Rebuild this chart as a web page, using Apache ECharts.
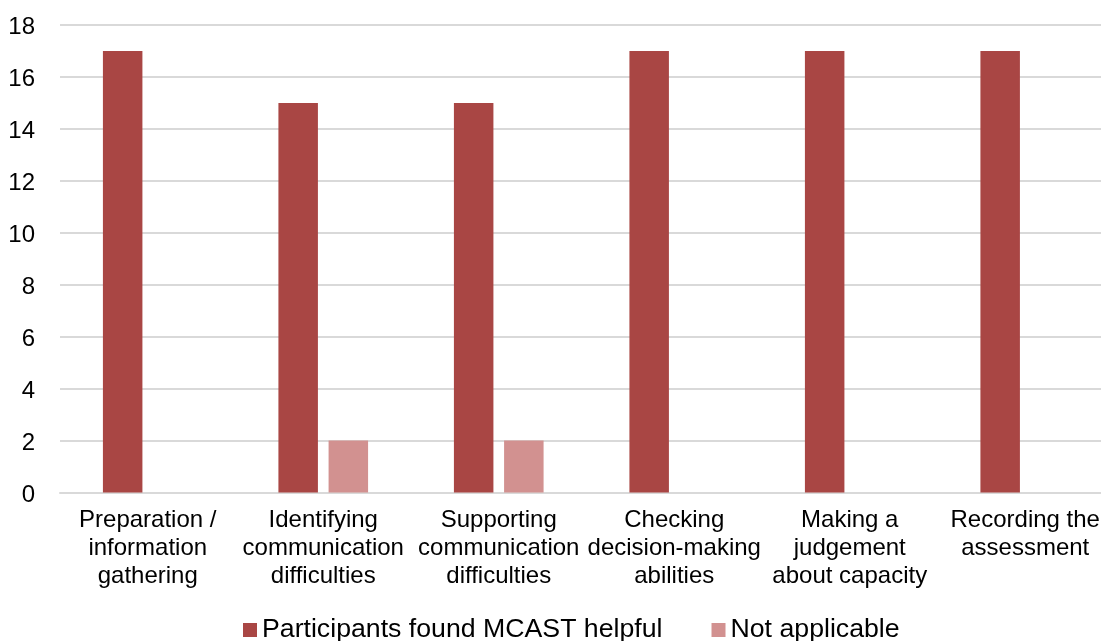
<!DOCTYPE html>
<html>
<head>
<meta charset="utf-8">
<script src="https://cdn.jsdelivr.net/npm/echarts@6/dist/echarts.min.js"></script>
<style>
html,body{margin:0;padding:0;background:#fff;}
#chart{width:1101px;height:641px;}
</style>
</head>
<body>
<div id="chart"></div>
<script>
const categories = [
  'Preparation /\ninformation\ngathering',
  'Identifying\ncommunication\ndifficulties',
  'Supporting\ncommunication\ndifficulties',
  'Checking\ndecision-making\nabilities',
  'Making a\njudgement\nabout capacity',
  'Recording the\nassessment'
];
const seriesNames = ['Participants found MCAST helpful', 'Not applicable'];
const helpful = [17, 15, 15, 17, 17, 17];
const notApplicable = [0, 2, 2, 0, 0, 0];
const yTicks = { min: 0, max: 18, interval: 2 };

const chart = echarts.init(document.getElementById('chart'));
const font = 'Liberation Sans, Arial, sans-serif';
chart.setOption({
  animation: false,
  backgroundColor: '#fff',
  grid: { left: 60, top: 25, width: 1053, bottom: 148.5, containLabel: false, outerBoundsMode: 'none' },
  legend: {
    left: 243, top: 615, padding: 0,
    itemWidth: 14, itemHeight: 14, itemGap: 49,
    icon: 'rect',
    textStyle: { fontFamily: font, fontSize: 26.7, color: '#000', lineHeight: 30 },
    data: seriesNames
  },
  xAxis: {
    type: 'category',
    data: categories,
    axisLine: { lineStyle: { color: '#d9d9d9', width: 2 } },
    axisTick: { show: false },
    axisLabel: { interval: 0, margin: 14, fontFamily: font, fontSize: 24, lineHeight: 28, color: '#000', overflow: 'none' }
  },
  yAxis: {
    type: 'value', min: yTicks.min, max: yTicks.max, interval: yTicks.interval,
    axisLine: { show: false },
    axisTick: { show: false },
    splitLine: { lineStyle: { color: '#d9d9d9', width: 2 } },
    axisLabel: {
      margin: 25, color: '#000',
      formatter: v => '{t|' + v + '}',
      rich: { t: { fontFamily: font, fontSize: 24, color: '#000', padding: [5, 0, 0, 0] } }
    }
  },
  series: [
    { name: seriesNames[0], type: 'bar', data: helpful, barWidth: 39.5, barGap: '27%',
      itemStyle: { color: '#A94644' } },
    { name: seriesNames[1], type: 'bar', data: notApplicable, barWidth: 39.5,
      itemStyle: { color: '#D29190' } }
  ]
});
</script>
</body>
</html>
